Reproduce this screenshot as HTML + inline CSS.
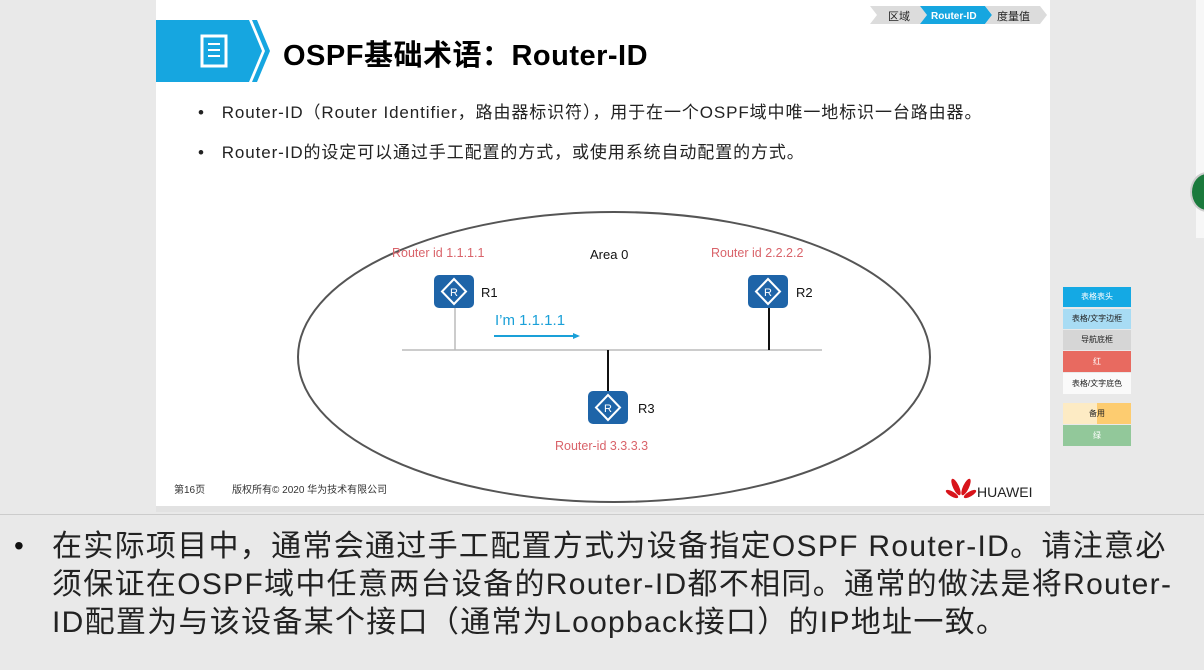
<!DOCTYPE html>
<html><head><meta charset="utf-8"><style>
body{margin:0;width:1204px;height:670px;background:#e9e9e9;position:relative;overflow:hidden;font-family:"Liberation Sans","Noto Sans CJK SC",sans-serif}
.a{position:absolute;white-space:nowrap}
</style></head><body>
<div class="a" style="left:156px;top:0;width:894px;height:506px;background:#fff"></div>
<div class="a" style="left:156px;top:506px;width:894px;height:6px;background:#e2e2e2"></div>
<div class="a" style="left:0;top:514px;width:1204px;height:1px;background:#ccc"></div>
<!-- breadcrumb -->
<svg class="a" style="left:870px;top:6px" width="180" height="18">
<polygon points="0,0 50,0 57,9 50,18 0,18 7,9" fill="#dcdcdc"/>
<polygon points="50,0 115,0 122,9 115,18 50,18 57,9" fill="#16a6e0"/>
<polygon points="115,0 170,0 177,9 170,18 115,18 122,9" fill="#dcdcdc"/>
<text x="18" y="14" font-size="11" fill="#222">区域</text>
<text x="61" y="13" font-size="10" font-weight="bold" fill="#fff">Router-ID</text>
<text x="127" y="14" font-size="11" fill="#222">度量值</text>
</svg>
<!-- header -->
<svg class="a" style="left:156px;top:18px" width="115" height="66">
<polygon points="0,2 93,2 106,33 93,64 0,64" fill="#16a6e0"/>
<polygon points="96,2 101,2 114,33 101,64 96,64 109,33" fill="#16a6e0"/>
<rect x="46" y="18" width="24" height="30" fill="none" stroke="#fff" stroke-width="3"/>
<line x1="52" y1="26" x2="64" y2="26" stroke="#fff" stroke-width="2"/>
<line x1="52" y1="32" x2="64" y2="32" stroke="#fff" stroke-width="2"/>
<line x1="52" y1="38" x2="64" y2="38" stroke="#fff" stroke-width="2"/>
</svg>
<div class="a" style="left:283px;top:32px;font-size:29px;letter-spacing:0.5px;font-weight:bold;color:#000">OSPF基础术语：Router-ID</div>
<div class="a" style="left:198px;top:98px;font-size:17px;letter-spacing:0.9px;color:#222">•&nbsp;&nbsp;&nbsp;Router-ID（Router Identifier，路由器标识符），用于在一个OSPF域中唯一地标识一台路由器。</div>
<div class="a" style="left:198px;top:138px;font-size:17px;letter-spacing:0.9px;color:#222">•&nbsp;&nbsp;&nbsp;Router-ID的设定可以通过手工配置的方式，或使用系统自动配置的方式。</div>
<!-- diagram -->
<svg class="a" style="left:0;top:0" width="1050" height="510">
<defs><g id="r"><rect x="0" y="0" width="40" height="33" rx="5" fill="#1e64a8"/><polygon points="20,4 32,16.5 20,29 8,16.5" fill="none" stroke="#fff" stroke-width="2"/><text x="20" y="21" font-size="11" fill="#fff" text-anchor="middle">R</text></g></defs>
<ellipse cx="614" cy="357" rx="316" ry="145" fill="none" stroke="#555" stroke-width="2"/>
<line x1="402" y1="350" x2="822" y2="350" stroke="#bbb" stroke-width="1.5"/>
<line x1="455" y1="305" x2="455" y2="350" stroke="#bbb" stroke-width="1.5"/>
<line x1="769" y1="305" x2="769" y2="350" stroke="#111" stroke-width="2"/>
<line x1="608" y1="350" x2="608" y2="393" stroke="#111" stroke-width="2"/>
<line x1="494" y1="336" x2="578" y2="336" stroke="#1aa0d8" stroke-width="2"/>
<polygon points="580,336 573,333 573,339" fill="#1aa0d8"/>
<use href="#r" x="434" y="275"/>
<use href="#r" x="748" y="275"/>
<use href="#r" x="588" y="391"/>
<g font-size="13" fill="#111"><text x="481" y="297">R1</text><text x="796" y="297">R2</text><text x="638" y="413">R3</text><text x="590" y="259">Area 0</text></g>
<g font-size="12.5" fill="#d9636a"><text x="392" y="257">Router id 1.1.1.1</text><text x="711" y="257">Router id 2.2.2.2</text><text x="555" y="450">Router-id 3.3.3.3</text></g>
<text x="495" y="325" font-size="15" fill="#1aa0d8">I’m 1.1.1.1</text>
<text x="174" y="493" font-size="10" fill="#333">第16页</text>
<text x="232" y="493" font-size="10" fill="#333">版权所有© 2020 华为技术有限公司</text>
<g fill="#d8141b"><ellipse cx="956" cy="487" rx="3" ry="9" transform="rotate(-25 956 487)"/><ellipse cx="966" cy="487" rx="3" ry="9" transform="rotate(25 966 487)"/><ellipse cx="952" cy="494" rx="2.5" ry="7" transform="rotate(-60 952 494)"/><ellipse cx="970" cy="494" rx="2.5" ry="7" transform="rotate(60 970 494)"/></g>
<text x="977" y="497" font-size="14" fill="#222">HUAWEI</text>
</svg>
<!-- right palette -->
<div class="a" style="left:1063px;top:287px;width:68px;height:20px;background:#14a9e4;font-size:8px;color:#fff;text-align:center;line-height:20px">表格表头</div>
<div class="a" style="left:1063px;top:309px;width:68px;height:20px;background:#a8dcf4;font-size:8px;color:#222;text-align:center;line-height:20px">表格/文字边框</div>
<div class="a" style="left:1063px;top:330px;width:68px;height:20px;background:#d6d6d6;font-size:8px;color:#222;text-align:center;line-height:20px">导航底框</div>
<div class="a" style="left:1063px;top:351px;width:68px;height:21px;background:#e86a60;font-size:8px;color:#fff;text-align:center;line-height:21px">红</div>
<div class="a" style="left:1063px;top:373px;width:68px;height:21px;background:#fafafa;font-size:8px;color:#222;text-align:center;line-height:21px">表格/文字底色</div>
<div class="a" style="left:1063px;top:403px;width:68px;height:21px;background:linear-gradient(90deg,#fdebc4 50%,#fdcc70 50%);font-size:8px;color:#222;text-align:center;line-height:21px">备用</div>
<div class="a" style="left:1063px;top:425px;width:68px;height:21px;background:#92c89a;font-size:8px;color:#fff;text-align:center;line-height:21px">绿</div>
<div class="a" style="left:1196px;top:0;width:8px;height:238px;background:#f7f7f7"></div>
<div class="a" style="left:1190px;top:172px;width:30px;height:36px;border-radius:50%;background:#1a7a3c;border:2px solid #ccc"></div>
<!-- bottom text -->
<div class="a" style="left:14px;top:530px;font-size:28px;color:#111">•</div>
<div class="a" style="left:52px;top:528px;font-size:30px;letter-spacing:1.3px;line-height:38px;color:#222">在实际项目中，通常会通过手工配置方式为设备指定OSPF Router-ID。请注意必<br>须保证在OSPF域中任意两台设备的Router-ID都不相同。通常的做法是将Router-<br>ID配置为与该设备某个接口（通常为Loopback接口）的IP地址一致。</div>
</body></html>
